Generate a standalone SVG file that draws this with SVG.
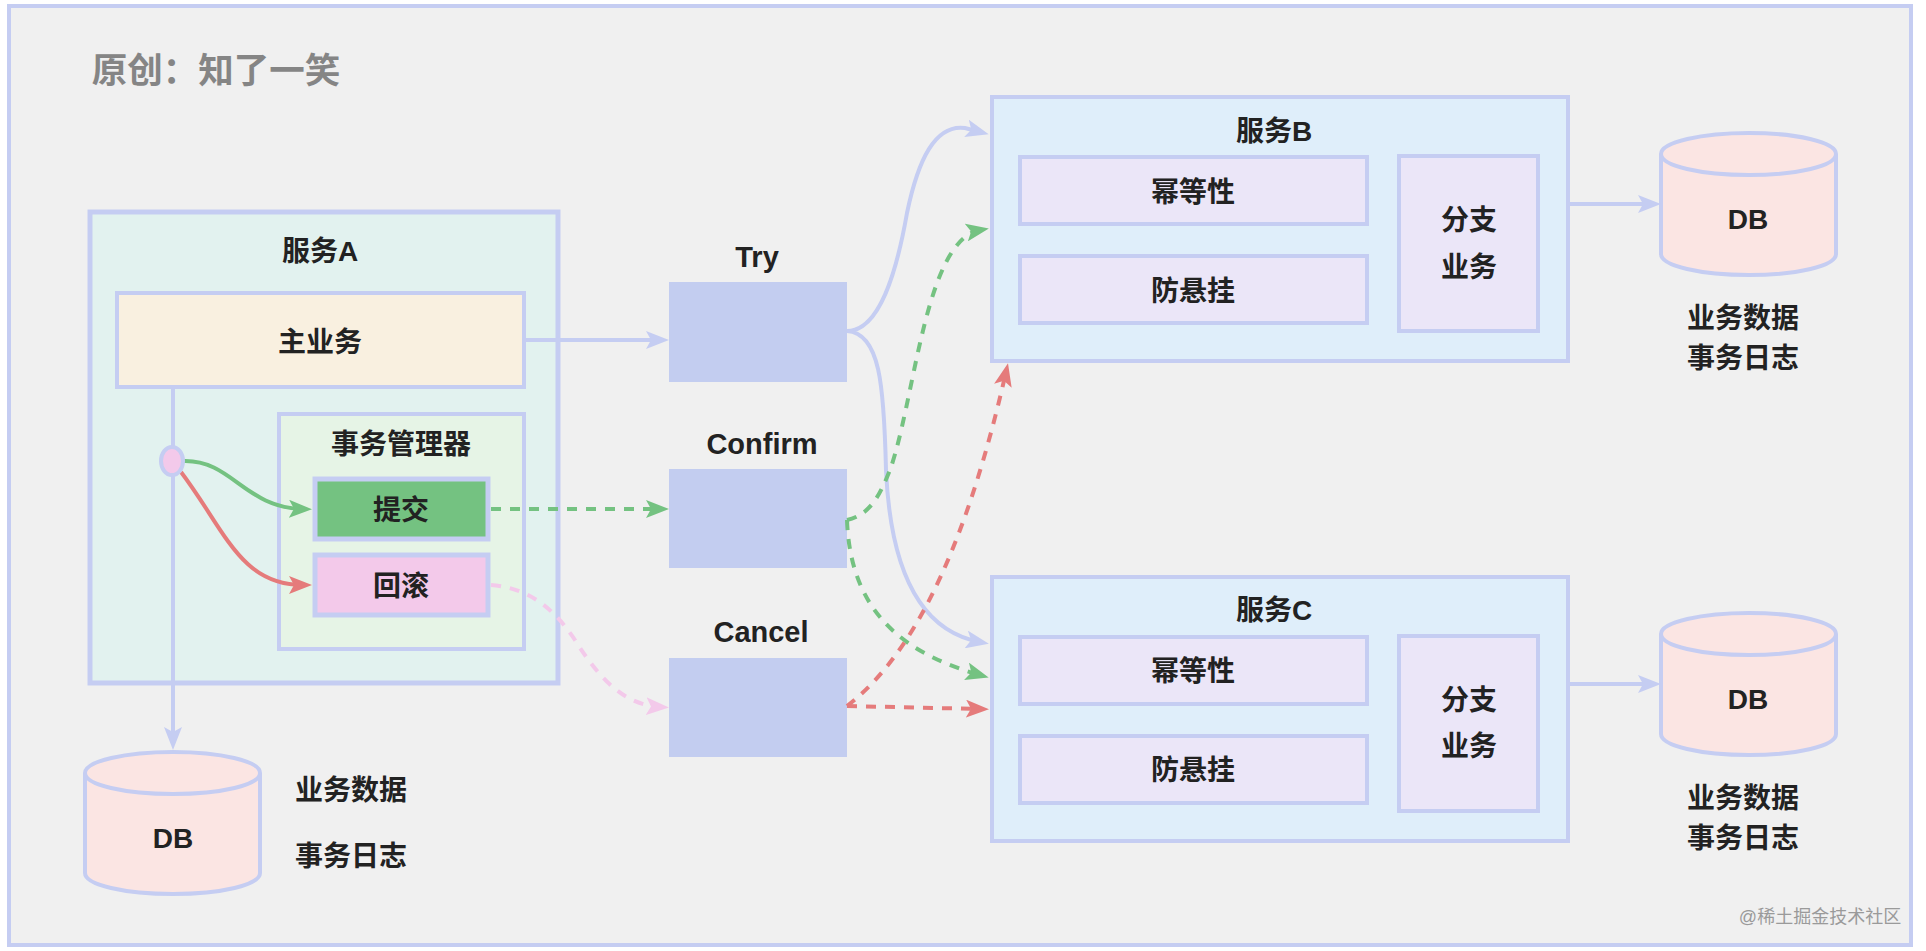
<svg xmlns="http://www.w3.org/2000/svg" width="1926" height="951" viewBox="0 0 1926 951">
<style>
text{font-family:"Liberation Sans","Noto Sans CJK SC",sans-serif;font-weight:700;font-size:28px;fill:#222;text-anchor:middle;dominant-baseline:central}
.b{stroke:#c5cdf2;stroke-width:4}
.f{stroke:#c5cdf2;stroke-width:5}
.st{fill:#c3cdf0}
.in{fill:#ebe6f8}
.svc{fill:#dfeefa}
.db{fill:#fbe5e3;stroke:#c5cdf2;stroke-width:4}
.c{fill:none;stroke-width:4}
.l{font-size:29px}
.blue{stroke:#c5cdf2;marker-end:url(#mb)}
.green{stroke:#74c281;stroke-dasharray:10 9;marker-end:url(#mg)}
.red{stroke:#e57b7b;stroke-dasharray:10 9;marker-end:url(#mr)}
.pink{stroke:#f3c9ea;stroke-dasharray:10 9;marker-end:url(#mp)}
.sg{stroke:#74c281;marker-end:url(#mg)}
.sr{stroke:#e57b7b;marker-end:url(#mr)}
</style>
<defs>
<marker id="mb" markerUnits="userSpaceOnUse" markerWidth="24" markerHeight="18" viewBox="0 0 24 18" refX="14" refY="9" orient="auto"><path d="M0 0L23 9L0 18L5 9Z" fill="#c5cdf2"/></marker>
<marker id="mg" markerUnits="userSpaceOnUse" markerWidth="24" markerHeight="18" viewBox="0 0 24 18" refX="14" refY="9" orient="auto"><path d="M0 0L23 9L0 18L5 9Z" fill="#74c281"/></marker>
<marker id="mr" markerUnits="userSpaceOnUse" markerWidth="24" markerHeight="18" viewBox="0 0 24 18" refX="14" refY="9" orient="auto"><path d="M0 0L23 9L0 18L5 9Z" fill="#e57b7b"/></marker>
<marker id="mp" markerUnits="userSpaceOnUse" markerWidth="24" markerHeight="18" viewBox="0 0 24 18" refX="14" refY="9" orient="auto"><path d="M0 0L23 9L0 18L5 9Z" fill="#f3c9ea"/></marker>
</defs>
<rect width="1926" height="951" fill="#fff"/>
<rect x="9" y="6" width="1902" height="939" fill="#f0f0f0" stroke="#c5cdf2" stroke-width="4"/>
<text x="216" y="71" style="font-size:35.500px;fill:#858585">原创：知了一笑</text>

<g id="service-a">
<rect x="90" y="212" width="468" height="471" fill="#e2f2ef" class="f"/>
<text x="320" y="251">服务A</text>
</g>
<g id="main-business">
<rect x="117" y="293" width="407" height="94" fill="#f9f0e0" class="b"/>
<text x="320" y="342">主业务</text>
</g>
<g id="tx-manager">
<rect x="279" y="414" width="245" height="235" fill="#e6f4e6" class="b"/>
<text x="401" y="444">事务管理器</text>
</g>
<g id="commit">
<rect x="315" y="479" width="173" height="60" fill="#74c281" class="f"/>
<text x="401" y="510">提交</text>
</g>
<g id="rollback">
<rect x="315" y="555" width="173" height="60" fill="#f3c9ea" class="f"/>
<text x="401" y="586">回滚</text>
</g>
<g id="db-a">
<path class="db" d="M85 773V873C85 885 125 894 173 894S260 885 260 873V773C260 761 220 752 173 752S85 761 85 773C85 785 125 794 173 794S260 785 260 773"/>
<text x="173" y="838">DB</text>
</g>
<text x="351" y="790">业务数据</text>
<text x="351" y="856">事务日志</text>

<g id="try">
<rect x="669" y="282" width="178" height="100" class="st"/>
<text x="757" y="257" class="l">Try</text>
</g>
<g id="confirm">
<rect x="669" y="469" width="178" height="99" class="st"/>
<text x="762" y="444" class="l">Confirm</text>
</g>
<g id="cancel">
<rect x="669" y="658" width="178" height="99" class="st"/>
<text x="761" y="632" class="l">Cancel</text>
</g>

<g id="service-b">
<rect x="992" y="97" width="576" height="264" class="svc b"/>
<text x="1274" y="131">服务B</text>
</g>
<g id="idempotent-b">
<rect x="1020" y="157" width="347" height="67" class="in b"/>
<text x="1193" y="192">幂等性</text>
</g>
<g id="hanging-b">
<rect x="1020" y="256" width="347" height="67" class="in b"/>
<text x="1193" y="291">防悬挂</text>
</g>
<g id="branch-b">
<rect x="1399" y="156" width="139" height="175" class="in b"/>
<text x="1469" y="220">分支</text>
<text x="1469" y="267">业务</text>
</g>
<g id="db-b">
<path class="db" d="M1661 154V254C1661 266 1701 275 1749 275S1836 266 1836 254V154C1836 142 1796 133 1749 133S1661 142 1661 154C1661 166 1701 175 1749 175S1836 166 1836 154"/>
<text x="1748" y="219">DB</text>
</g>
<text x="1743" y="318">业务数据</text>
<text x="1743" y="358">事务日志</text>

<g id="service-c">
<rect x="992" y="577" width="576" height="264" class="svc b"/>
<text x="1274" y="610">服务C</text>
</g>
<g id="idempotent-c">
<rect x="1020" y="637" width="347" height="67" class="in b"/>
<text x="1193" y="671">幂等性</text>
</g>
<g id="hanging-c">
<rect x="1020" y="736" width="347" height="67" class="in b"/>
<text x="1193" y="770">防悬挂</text>
</g>
<g id="branch-c">
<rect x="1399" y="636" width="139" height="175" class="in b"/>
<text x="1469" y="700">分支</text>
<text x="1469" y="746">业务</text>
</g>
<g id="db-c">
<path class="db" d="M1661 634V734C1661 746 1701 755 1749 755S1836 746 1836 734V634C1836 622 1796 613 1749 613S1661 622 1661 634C1661 646 1701 655 1749 655S1836 646 1836 634"/>
<text x="1748" y="699">DB</text>
</g>
<text x="1743" y="798">业务数据</text>
<text x="1743" y="838">事务日志</text>

<g id="connectors">
<path class="c blue" d="M173 388V741"/>
<path class="c blue" d="M524 340H660"/>
<path class="c sg" d="M184 461C232 460 245 508 303 509"/>
<path class="c sr" d="M181 472C225 530 240 585 303 585"/>
<path class="c green" d="M491 509H660"/>
<path class="c pink" d="M491 585C530 588 555 610 575 640C600 680 625 705 660 707"/>
<path class="c blue" d="M847 331C880 331 897 270 907 213C918 160 935 124 965 128L980 132"/>
<path class="c blue" d="M847 331C880 333 884 385 886 470C890 560 915 630 980 642"/>
<path class="c green" d="M847 520C870 515 880 495 890 470C915 400 925 240 980 230"/>
<path class="c green" d="M847 520C850 600 890 650 980 675"/>
<path class="c red" d="M847 706C920 650 970 530 1006 372"/>
<path class="c red" d="M847 706L980 709"/>
<path class="c blue" d="M1568 204H1652"/>
<path class="c blue" d="M1568 684H1652"/>
</g>
<g id="junction">
<ellipse cx="172" cy="461" rx="11" ry="14" fill="#f3c9ea" stroke="#c5cdf2" stroke-width="4"/>
</g>
<text x="1820" y="917" style="font-size:18px;font-weight:400;fill:#9a9a9a">@稀土掘金技术社区</text>
</svg>
